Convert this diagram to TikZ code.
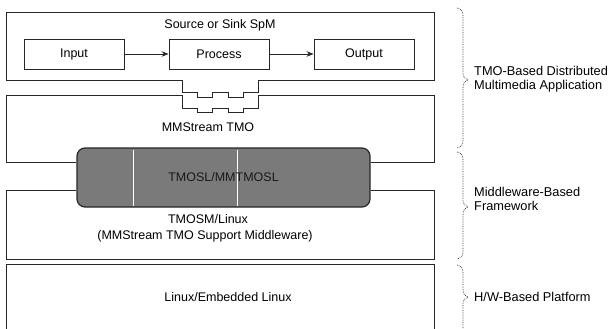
\documentclass[tikz,border=0pt]{standalone}
\usepackage{fontspec}
\setmainfont{Liberation Sans}
\usetikzlibrary{arrows.meta}
\begin{document}
\begin{tikzpicture}[x=1pt,y=-1pt,
  outline/.style={line width=0.9pt, draw=black!85},
  procbox/.style={draw=black!85, line width=0.9pt, minimum width=100pt, minimum height=30pt, inner sep=0pt, font=\fontsize{12.5}{15}\selectfont},
  lbl/.style={font=\fontsize{12.5}{15}\selectfont, inner sep=0pt},
  sidelbl/.style={font=\fontsize{12.8}{14.5}\selectfont, inner sep=0pt, anchor=west, align=left},
  flow/.style={line width=0.9pt, draw=black!85, -{Stealth[length=7pt,width=5.5pt]}},
  bracepath/.style={densely dotted, line width=0.7pt, draw=black!80},
  slbox/.style={draw=black!85, line width=1.2pt, rounded corners=8pt, fill=black!52, minimum width=293pt, minimum height=59pt, inner sep=0pt},
]
\useasboundingbox (0,0) rectangle (616,329);

% upper layer: Source or Sink SpM with its tab
\draw[outline] (6,12) -- (434,12) -- (434,80) -- (258,80) -- (258,92) -- (243,92) -- (243,97.5) -- (228,97.5) -- (228,92) -- (212.5,92) -- (212.5,97.5) -- (197,97.5) -- (197,92) -- (182,92) -- (182,80) -- (6,80) -- cycle;
\node[lbl] (src) at (220,25) {Source or Sink SpM};
\node[procbox] (inp) at (74,54) {Input};
\node[procbox] (proc) at (219,54) {Process};
\node[procbox] (outp) at (364,54) {Output};
\draw[flow] (inp) -- (proc);
\draw[flow] (proc) -- (outp);

% TMOSL rounded box
\node[slbox] (sl) at (223.5,177.5) {};
\draw[white, line width=1pt] (133,149.5) -- (133,205.5);
\draw[white, line width=1pt] (237,149.5) -- (237,205.5);
\node[lbl, text=black!90] (sltxt) at (sl.center) {TMOSL/MMTMOSL};

% MMStream TMO layer with its slot
\coordinate (m1) at (6,162);
\coordinate (m2) at (434,162);
\draw[outline] (m1 -| sl.west) -- (m1) -- (6,95) -- (182,95) -- (182,108) -- (197,108) -- (197,112.5) -- (212.5,112.5) -- (212.5,108) -- (228,108) -- (228,112.5) -- (243,112.5) -- (243,108) -- (258,108) -- (258,95) -- (434,95) -- (m2) -- (m2 -| sl.east);
\node[lbl] (mms) at (208,127) {MMStream TMO};

% TMOSM/Linux layer
\coordinate (t1) at (6,190);
\coordinate (t2) at (434,190);
\draw[outline] (t1 -| sl.west) -- (t1) -- (6,259) -- (434,259) -- (t2) -- (t2 -| sl.east);
\node[lbl] (tsm) at (208,219) {TMOSM/Linux};
\node[lbl] (tsm2) at (205,236) {(MMStream TMO Support Middleware)};

% Linux layer
\draw[outline] (6,330) -- (6,264) -- (434,264) -- (434,330);
\node[lbl] (lin) at (228,297) {Linux/Embedded Linux};

% braces
\draw[bracepath] (457,8) .. controls (461,9) and (463,11) .. (463,16) -- (463,73) .. controls (463,77) and (465,79) .. (468,80) .. controls (465,81) and (463,83) .. (463,87) -- (463,141) .. controls (463,145) and (461,147) .. (457,148);
\draw[bracepath] (457,152) .. controls (461,153) and (463,155) .. (463,160) -- (463,200) .. controls (463,204) and (465,206) .. (468,207) .. controls (465,208) and (463,210) .. (463,214) -- (463,252) .. controls (463,256) and (461,258) .. (457,259);
\draw[bracepath] (457,265) .. controls (461,266) and (463,268) .. (463,273) -- (463,290) .. controls (463,294) and (465,296) .. (468,297) .. controls (465,298) and (463,300) .. (463,304) -- (463,330);

\node[sidelbl] (l1) at (474,79) {TMO-Based Distributed\\Multimedia Application};
\node[sidelbl] (l2) at (474,199) {Middleware-Based\\Framework};
\node[sidelbl] (l3) at (474,297) {H/W-Based Platform};
\end{tikzpicture}
\end{document}
